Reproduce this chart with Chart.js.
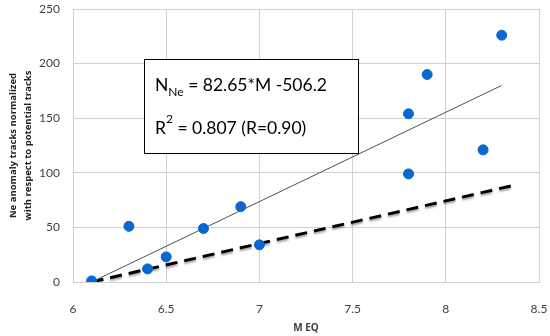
<!doctype html>
<html lang="en">
  <head>
    <title>Ne anomaly tracks vs M EQ</title>
    <style>
      html, body {
        margin: 0;
        padding: 0;
        background: #ffffff;
      }

      .chart-container {
        position: relative;
        width: 550px;
        height: 336px;
      }
    </style>
  </head>

  <body>
    <div class="chart-container">
      <canvas id="scatterChart"></canvas>
    </div>

    <script src="https://cdn.jsdelivr.net/npm/chart.js@4/dist/chart.umd.min.js"></script>
    <script type="text/javascript">
      // Observed points (magnitude, normalized Ne anomaly tracks)
      const magnitudes = [6.1, 6.3, 6.4, 6.5, 6.7, 6.9, 7.0, 7.8, 7.8, 7.9, 8.2, 8.3];
      const anomalyTracks = [1, 51, 12, 23, 49, 69, 34, 99, 154, 190, 121, 226];

      // Linear fit N = 82.65*M - 506.2 (end points only)
      const fitX = [6.1, 8.3];
      const fitY = [0, 180];

      // Dashed reference line
      const refX = [6.1, 8.35];
      const refY = [0, 88];

      const xTicks = [6, 6.5, 7, 7.5, 8, 8.5];
      const yTicks = [0, 50, 100, 150, 200, 250];

      const toPoints = (xs, ys) => xs.map((x, i) => ({ x: x, y: ys[i] }));

      // Soft shadow under the dashed line
      const dashShadow = {
        id: "dashShadow",
        beforeDatasetDraw(chart, args) {
          if (args.index !== 0) return;
          const c = chart.ctx;
          c.shadowColor = "rgba(0, 0, 0, 0.35)";
          c.shadowBlur = 2;
          c.shadowOffsetY = 2;
        },
        afterDatasetDraw(chart, args) {
          if (args.index !== 0) return;
          const c = chart.ctx;
          c.shadowColor = "rgba(0, 0, 0, 0)";
          c.shadowBlur = 0;
          c.shadowOffsetY = 0;
        },
      };

      // Draws the equation box over the plot
      const equationBox = {
        id: "equationBox",
        afterDatasetsDraw(chart) {
          const { ctx, chartArea } = chart;
          const left = chartArea.left + 71;
          const top = chartArea.top + 50;
          const w = 214;
          const h = 94;

          ctx.save();
          ctx.fillStyle = "#ffffff";
          ctx.fillRect(left, top, w, h);
          ctx.strokeStyle = "#000000";
          ctx.lineWidth = 1;
          ctx.strokeRect(left + 0.5, top + 0.5, w, h);

          ctx.fillStyle = "#000000";
          ctx.textBaseline = "alphabetic";
          const big = "17.5px Lato";
          const small = "12px Lato";

          // line 1: N_Ne = 82.65*M -506.2
          let x = left + 11;
          let y = top + 32;
          ctx.font = big;
          ctx.fillText("N", x, y);
          x += ctx.measureText("N").width;
          ctx.font = small;
          ctx.fillText("Ne", x, y + 5);
          x += ctx.measureText("Ne").width;
          ctx.font = big;
          ctx.fillText(" = 82.65*M -506.2", x, y);

          // line 2: R^2 = 0.807 (R=0.90)
          x = left + 11;
          y = top + 75;
          ctx.fillText("R", x, y);
          x += ctx.measureText("R").width;
          ctx.font = small;
          ctx.fillText("2", x, y - 11);
          x += ctx.measureText("2").width;
          ctx.font = big;
          ctx.fillText(" = 0.807 (R=0.90)", x, y);
          ctx.restore();
        },
      };

      const ctx = document.getElementById("scatterChart").getContext("2d");
      new Chart(ctx, {
        type: "scatter",
        data: {
          datasets: [
            {
              label: "Reference",
              data: toPoints(refX, refY),
              showLine: true,
              borderColor: "#000000",
              borderWidth: 3,
              borderDash: [12, 7],
              pointRadius: 0,
              order: 3,
            },
            {
              label: "Linear fit",
              data: toPoints(fitX, fitY),
              showLine: true,
              borderColor: "#505050",
              borderWidth: 1,
              pointRadius: 0,
              order: 2,
            },
            {
              label: "Ne anomaly",
              data: toPoints(magnitudes, anomalyTracks),
              backgroundColor: "#0b67d0",
              borderColor: "#0b67d0",
              pointRadius: 5,
              order: 1,
            },
          ],
        },
        options: {
          responsive: true,
          maintainAspectRatio: false,
          animation: false,
          layout: {
            padding: { top: 9, right: 11, bottom: 0, left: 0 },
          },
          plugins: {
            legend: { display: false },
            tooltip: { enabled: false },
          },
          scales: {
            x: {
              type: "linear",
              min: 6,
              max: 8.5,
              afterBuildTicks: (axis) => {
                axis.ticks = xTicks.map((v) => ({ value: v }));
              },
              afterFit: (axis) => {
                axis.paddingRight = 0;
                axis.paddingLeft = 0;
                axis.height = 54;
              },
              grid: {
                color: "#d0d0d0",
                drawTicks: false,
              },
              border: { color: "#d0d0d0" },
              ticks: {
                padding: 20,
                color: "#404040",
                font: { family: "Lato", size: 12 },
                callback: (v) => String(v),
              },
              title: {
                display: true,
                text: "M EQ",
                color: "#404040",
                font: { family: "Open Sans", size: 10, weight: "bold", lineHeight: 1 },
                padding: { top: 0, bottom: 3 },
              },
            },
            y: {
              min: 0,
              max: 250,
              afterBuildTicks: (axis) => {
                axis.ticks = yTicks.map((v) => ({ value: v }));
              },
              afterFit: (axis) => {
                axis.width = 73;
                axis.paddingTop = 0;
                axis.paddingBottom = 0;
              },
              grid: {
                color: "#d0d0d0",
                drawTicks: false,
              },
              border: { color: "#d0d0d0" },
              ticks: {
                padding: 13,
                color: "#404040",
                font: { family: "Lato", size: 12 },
              },
              title: {
                display: true,
                text: ["Ne anomaly tracks normalized", "with respect to potential tracks"],
                color: "#202020",
                font: { family: "Open Sans", size: 9.5, weight: "bold", lineHeight: 1.55 },
                padding: { top: 6, bottom: 0 },
              },
            },
          },
        },
        plugins: [dashShadow, equationBox],
      });
    </script>
  </body>
</html>
